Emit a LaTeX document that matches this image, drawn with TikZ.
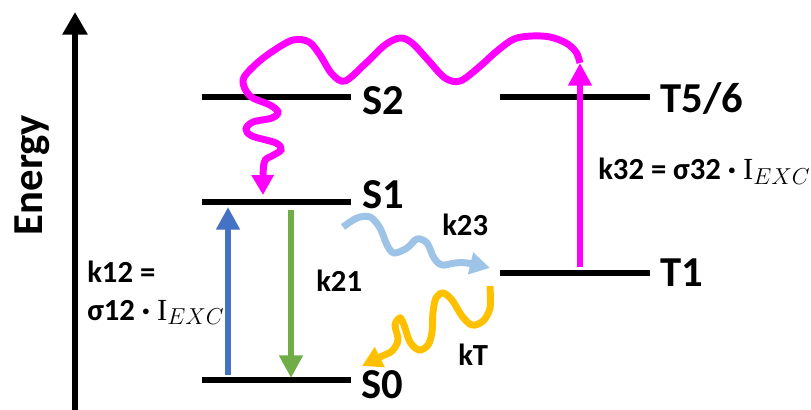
\documentclass[tikz,border=0pt]{standalone}
\usepackage{fontspec}
\setmainfont{Carlito}
\newfontfamily\serifsym{Liberation Serif}
\usepackage{tikz}
\usetikzlibrary{
    positioning,
    arrows.meta,
    calc,
}
\definecolor{pinkline}{HTML}{FF00FF}
\definecolor{absblue}{HTML}{4472C4}
\definecolor{emgreen}{HTML}{70AD47}
\definecolor{iscblue}{HTML}{9DC3E6}
\definecolor{tripgold}{HTML}{FFC000}
\tikzset{
    % Level styles
    levelline/.style={line width=5.2pt},
    lvl label/.style={font=\fontsize{32}{38}\selectfont\bfseries, anchor=base west, inner sep=0pt},
    rate label/.style={font=\fontsize{23}{28}\selectfont\bfseries, anchor=base west, inner sep=0pt},
    % Arrow styles
    trans arrow/.style={line width=5pt, -{Triangle[length=17pt, width=17pt]}},
    wavy arrow/.style={line width=5.2pt, -{Triangle[length=15pt, width=16pt]}},
}
\newcommand{\iexc}{{\serifsym\mdseries I}$_{EXC}$}

\begin{document}
\begin{tikzpicture}[
    x=0.75pt, y=-0.75pt,
    axis arrow/.style={line width=4.9pt, -{Triangle[length=17pt, width=18pt]}},
]
    \useasboundingbox (0,0) rectangle (811,410);

    % Energy axis
    \coordinate (axbot) at (75,414);
    \coordinate (axtop) at (75,12);
    \draw[axis arrow] (axbot) -- (axtop);
    \node[font=\fontsize{32}{38}\selectfont\bfseries, rotate=90, anchor=base, inner sep=0pt] (energy) at (42,175) {Energy};

    % Singlet levels
    \coordinate (s2a) at (202,97);  \coordinate (s2b) at (351,97);
    \coordinate (s1a) at (202,202); \coordinate (s1b) at (351,202);
    \coordinate (s0a) at (202,380); \coordinate (s0b) at (351,380);
    \draw[levelline] (s2a) -- (s2b);
    \draw[levelline] (s1a) -- (s1b);
    \draw[levelline] (s0a) -- (s0b);
    \node[lvl label] (S2) at (362,114) {S2};
    \node[lvl label] (S1) at (362,208) {S1};
    \node[lvl label] (S0) at (361,398) {S0};

    % Triplet levels
    \coordinate (t56a) at (500,97);  \coordinate (t56b) at (650,97);
    \coordinate (t1a) at (500,273);  \coordinate (t1b) at (650,273);
    \draw[levelline] (t56a) -- (t56b);
    \draw[levelline] (t1a) -- (t1b);
    \node[lvl label] (T56) at (660,113) {T5/6};
    \node[lvl label] (T1) at (660,286) {T1};

    % Absorption and emission
    \coordinate (absfrom) at (228,375); \coordinate (absto) at (228,207);
    \coordinate (emfrom) at (291,210);  \coordinate (emto) at (291,378);
    \draw[trans arrow, absblue] (absfrom) -- (absto);
    \draw[trans arrow, emgreen] (emfrom) -- (emto);

    % Triplet absorption
    \coordinate (tabsfrom) at (580,267); \coordinate (tabsto) at (580,63);
    \draw[trans arrow, pinkline] (tabsfrom) -- (tabsto);

    % Relaxation back to S1
    \coordinate (relaxto) at (263,195);
    \draw[wavy arrow, pinkline] plot[smooth, tension=0.55] coordinates {
        (tabsto) (576,52) (566,43) (550,37) (532,36) (514,39) (497,51)
        (478,68) (460,81) (445,78) (428,60) (412,43) (400,38) (385,45)
        (365,64) (345,81) (332,74) (320,55) (309,42) (293,40) (273,51)
        (255,65) (243,80) (250,96) (270,105) (278,112) (272,118) (253,122)
        (246,129) (252,136) (276,143) (281,150) (272,156) (264,163) (relaxto)};

    % Intersystem crossing
    \coordinate (iscfrom) at (343,227); \coordinate (iscto) at (490,268);
    \draw[wavy arrow, iscblue] plot[smooth, tension=0.55] coordinates {
        (iscfrom) (357,218) (370,217) (380,228) (387,245) (394,253)
        (407,248) (417,239) (427,243) (434,258) (442,265) (455,263)
        (467,263) (iscto)};

    % Triplet decay
    \coordinate (kTfrom) at (490,286); \coordinate (kTto) at (362,366);
    \draw[wavy arrow, tripgold] plot[smooth, tension=0.55] coordinates {
        (kTfrom) (490,308) (483,321) (472,325) (462,316) (452,300)
        (443,293) (436,298) (433,312) (432,332) (428,345) (419,350)
        (410,342) (404,325) (400,318) (395,325) (398,340) (392,351)
        (380,357) (kTto)};

    % Rate labels
    \node[rate label] (k12a) at (87,282) {k12 =};
    \node[rate label] (k12b) at (87,320) {σ12 · \iexc};
    \node[rate label] (k21) at (316,291) {k21};
    \node[rate label] (k23) at (442,235) {k23};
    \node[rate label] (kT) at (458,365) {kT};
    \node[rate label] (k32) at (598,180) {k32 = σ32 · \iexc};
\end{tikzpicture}
\end{document}
